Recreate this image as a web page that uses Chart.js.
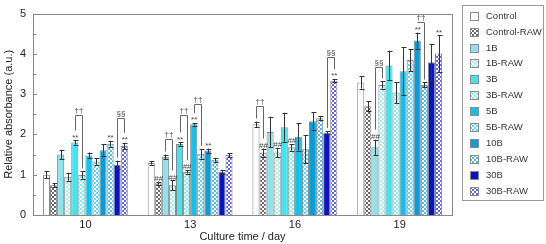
<!DOCTYPE html>
<html>
<head>
<meta charset="utf-8">
<script src="https://cdn.jsdelivr.net/npm/chart.js@4.4.0/dist/chart.umd.min.js"></script>
<style>
  body { margin: 0; background: #fff; }
  #wrap { position: relative; width: 546px; height: 244px; }
  #legend { position: absolute; left: 462px; top: 5px; width: 82px; height: 196px; border: 1px solid #999; box-sizing: border-box; }
  .item { position: absolute; left: 470px; height: 12px; font-family: Arial, 'Liberation Sans', sans-serif; font-size: 9.5px; color: #333; line-height: 12px; }
  .item canvas { position: absolute; left: 0; top: 2px; }
  .item span { position: absolute; left: 16px; white-space: nowrap; }
</style>
</head>
<body>
<div id="wrap">
  <canvas id="chart" width="546" height="244"></canvas>
  <div id="legend"></div>
</div>
<script>
// categorias (dias) e séries
const days = ['10', '13', '16', '19'];
const seriesNames = ['Control', 'Control-RAW', '1B', '1B-RAW', '3B', '3B-RAW', '5B', '5B-RAW', '10B', '10B-RAW', '30B', '30B-RAW'];

// médias
const control    = [1.00, 1.29, 2.25, 3.29];
const controlRaw = [0.74, 0.79, 1.55, 2.70];
const b1         = [1.50, 1.44, 2.06, 1.68];
const b1Raw      = [0.95, 0.74, 1.55, 3.23];
const b3         = [1.80, 1.76, 2.18, 3.71];
const b3Raw      = [0.99, 1.07, 1.68, 3.04];
const b5         = [1.48, 2.25, 1.94, 3.57];
const b5Raw      = [1.33, 1.52, 1.63, 3.85];
const b10        = [1.61, 1.60, 2.33, 4.33];
const b10Raw     = [1.77, 1.37, 2.40, 3.23];
const b30        = [1.25, 1.07, 2.04, 3.79];
const b30Raw     = [1.71, 1.49, 3.33, 4.01];

// desvios (barras de erro)
const controlErr    = [0.09, 0.04, 0.07, 0.15];
const controlRawErr = [0.05, 0.04, 0.10, 0.12];
const b1Err         = [0.12, 0.06, 0.38, 0.19];
const b1RawErr      = [0.10, 0.12, 0.12, 0.09];
const b3Err         = [0.05, 0.04, 0.36, 0.37];
const b3RawErr      = [0.09, 0.04, 0.08, 0.26];
const b5Err         = [0.07, 0.03, 0.34, 0.60];
const b5RawErr      = [0.08, 0.12, 0.35, 0.27];
const b10Err        = [0.15, 0.05, 0.22, 0.20];
const b10RawErr     = [0.07, 0.05, 0.05, 0.06];
const b30Err        = [0.10, 0.05, 0.04, 0.46];
const b30RawErr     = [0.08, 0.05, 0.04, 0.45];

const yTicks = [0, 1, 2, 3, 4, 5];

// marcas de significância: [dia, série, texto]
const marks = [
  [0, 4, '**'], [0, 9, '**'], [0, 11, '**'],
  [1, 1, '##'], [1, 3, '##'], [1, 5, '##'], [1, 4, '**'], [1, 6, '**'], [1, 8, '**'],
  [2, 1, '##'], [2, 3, '##'], [2, 5, '##'], [2, 11, '**'],
  [3, 2, '##'], [3, 8, '**'], [3, 11, '**']
];
// colchetes: [dia, série A, série B, topo, texto]
const brackets = [
  [0, 4, 5, 2.48, '††'], [0, 10, 11, 2.42, '§§'],
  [1, 2, 3, 1.89, '††'], [1, 4, 5, 2.48, '††'], [1, 6, 7, 2.75, '††'],
  [2, 0, 1, 2.71, '††'], [2, 10, 11, 3.93, '§§'],
  [3, 2, 3, 3.67, '§§'], [3, 8, 9, 4.79, '††']
];

const values = [control, controlRaw, b1, b1Raw, b3, b3Raw, b5, b5Raw, b10, b10Raw, b30, b30Raw];
const errors = [controlErr, controlRawErr, b1Err, b1RawErr, b3Err, b3RawErr, b5Err, b5RawErr, b10Err, b10RawErr, b30Err, b30RawErr];

function checker(color) {
  const c = document.createElement('canvas');
  c.width = 4; c.height = 4;
  const g = c.getContext('2d');
  g.fillStyle = '#fff';
  g.fillRect(0, 0, 4, 4);
  g.fillStyle = color;
  g.fillRect(0, 0, 2, 2);
  g.fillRect(2, 2, 2, 2);
  return g.createPattern(c, 'repeat');
}

const fills = [
  '#ffffff', checker('#6a6a6a'),
  '#8fe3ec', checker('#a6eef5'),
  '#3fe6f2', checker('#7eeef8'),
  '#0cc4f2', checker('#5fd6f6'),
  '#039fdc', checker('#4cc0ec'),
  '#0412c8', checker('#6464e6')
];

const fontFamily = "Arial, 'Liberation Sans', sans-serif";

const extras = {
  id: 'extras',
  afterDatasetsDraw(chart) {
    const { ctx, chartArea, scales } = chart;
    const y = scales.y;
    ctx.save();
    // moldura
    ctx.strokeStyle = '#888';
    ctx.lineWidth = 1;
    ctx.strokeRect(Math.round(chartArea.left) + 0.5, Math.round(chartArea.top) + 0.5,
      Math.round(chartArea.right - chartArea.left), Math.round(chartArea.bottom - chartArea.top));
    // ticks internos no eixo y
    for (let v = 0.5; v < 5; v += 0.5) {
      const py = Math.round(y.getPixelForValue(v)) + 0.5;
      ctx.beginPath();
      ctx.moveTo(chartArea.left, py);
      ctx.lineTo(chartArea.left + (v % 1 === 0 ? 4 : 3), py);
      ctx.stroke();
    }
    // barras de erro
    ctx.strokeStyle = '#333';
    values.forEach((vals, i) => {
      const meta = chart.getDatasetMeta(i);
      vals.forEach((v, j) => {
        const x = Math.round(meta.data[j].x) + 0.5;
        const hi = y.getPixelForValue(v + errors[i][j]);
        const lo = y.getPixelForValue(v - errors[i][j]);
        ctx.beginPath();
        ctx.moveTo(x, hi); ctx.lineTo(x, lo);
        ctx.moveTo(x - 2, Math.round(hi) + 0.5); ctx.lineTo(x + 3, Math.round(hi) + 0.5);
        ctx.moveTo(x - 2, Math.round(lo) + 0.5); ctx.lineTo(x + 3, Math.round(lo) + 0.5);
        ctx.stroke();
      });
    });
    // marcas
    ctx.fillStyle = '#444';
    ctx.font = '8px ' + fontFamily;
    ctx.textAlign = 'center';
    ctx.textBaseline = 'bottom';
    const hasMark = {};
    marks.forEach(([d, s, t]) => {
      hasMark[d + '-' + s] = true;
      const x = chart.getDatasetMeta(s).data[d].x;
      const top = y.getPixelForValue(values[s][d] + errors[s][d]);
      ctx.fillText(t, x + 0.5, top + 1);
    });
    // colchetes
    ctx.strokeStyle = '#666';
    brackets.forEach(([d, a, b, topV, t]) => {
      const xa = Math.round(chart.getDatasetMeta(a).data[d].x) + 0.5;
      const xb = Math.round(chart.getDatasetMeta(b).data[d].x) + 0.5;
      const yt = Math.round(y.getPixelForValue(topV)) + 0.5;
      const legA = y.getPixelForValue(values[a][d] + errors[a][d]) - (hasMark[d + '-' + a] ? 10 : 3);
      const legB = y.getPixelForValue(values[b][d] + errors[b][d]) - (hasMark[d + '-' + b] ? 10 : 3);
      ctx.beginPath();
      ctx.moveTo(xa, legA); ctx.lineTo(xa, yt); ctx.lineTo(xb, yt); ctx.lineTo(xb, legB);
      ctx.stroke();
      ctx.fillText(t, (xa + xb) / 2, yt - 1);
    });
    ctx.restore();
  }
};

new Chart(document.getElementById('chart'), {
  type: 'bar',
  data: {
    labels: days,
    datasets: seriesNames.map((name, i) => ({
      label: name,
      data: values[i],
      backgroundColor: fills[i],
      borderColor: '#8a8a8a',
      borderWidth: 1,
      borderSkipped: 'bottom',
      categoryPercentage: 0.81,
      barPercentage: 1.0
    }))
  },
  options: {
    responsive: false,
    devicePixelRatio: 1,
    animation: false,
    layout: { padding: { left: 0, right: 94, top: 5, bottom: 0 } },
    plugins: { legend: { display: false }, tooltip: { enabled: false } },
    scales: {
      x: {
        grid: { display: false, drawTicks: false },
        border: { display: false },
        ticks: { color: '#222', font: { family: fontFamily, size: 11 }, padding: 3 },
        title: { display: true, text: 'Culture time / day', color: '#222', font: { family: fontFamily, size: 11 }, padding: 0 },
        afterFit: s => { s.height = 29; }
      },
      y: {
        min: 0, max: 5,
        afterBuildTicks: s => { s.ticks = yTicks.map(v => ({ value: v })); },
        grid: { display: false, drawTicks: false },
        border: { display: false },
        ticks: { color: '#222', font: { family: fontFamily, size: 11 }, padding: 7 },
        title: { display: true, text: 'Relative absorbance (a.u.)', color: '#222', font: { family: fontFamily, size: 11 }, padding: { top: 2, bottom: 0 } },
        afterFit: s => { s.width = 33; }
      }
    }
  },
  plugins: [extras]
});

// legenda em HTML
const wrap = document.getElementById('wrap');
seriesNames.forEach((name, i) => {
  const item = document.createElement('div');
  item.className = 'item';
  item.style.top = (9.7 + 15.9 * i) + 'px';
  const sw = document.createElement('canvas');
  sw.width = 9; sw.height = 9;
  const g = sw.getContext('2d');
  g.fillStyle = fills[i];
  g.fillRect(0, 0, 9, 9);
  g.strokeStyle = '#8a8a8a';
  g.strokeRect(0.5, 0.5, 8, 8);
  const label = document.createElement('span');
  label.textContent = name;
  item.appendChild(sw);
  item.appendChild(label);
  wrap.appendChild(item);
});
</script>
</body>
</html>
